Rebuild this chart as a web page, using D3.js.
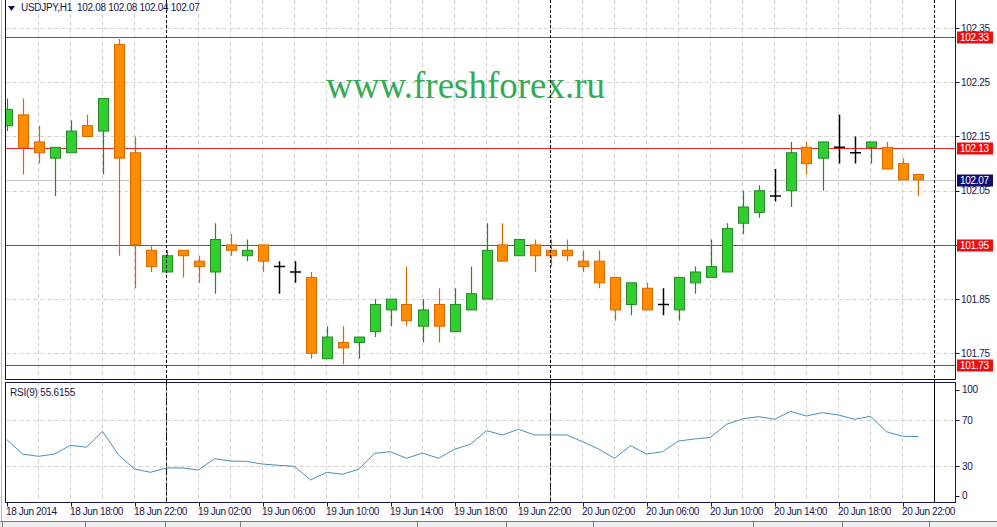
<!DOCTYPE html>
<html>
<head>
<meta charset="utf-8">
<script src="https://cdn.jsdelivr.net/npm/d3@7"></script>
<style>
  body { margin: 0; background: #ffffff; }
  svg { display: block; }
  text { font-family: "Liberation Sans", Arial, sans-serif; }
</style>
</head>
<body>
<svg id="chart" width="997" height="527"></svg>
<script>
// USDJPY H1 bars, 18 Jun 14:00 .. 20 Jun 23:00
var opens = [102.17,102.19,102.14,102.11,102.12,102.17,102.16,102.32,102.12,101.94,
             101.90,101.94,101.92,101.90,101.95,101.93,101.95,101.91,101.90,101.89,
             101.74,101.77,101.77,101.79,101.83,101.84,101.80,101.84,101.79,101.83,
             101.85,101.95,101.93,101.95,101.94,101.94,101.92,101.92,101.89,101.84,
             101.87,101.84,101.83,101.88,101.89,101.90,101.99,102.01,102.04,102.05,
             102.13,102.11,102.13,102.12,102.13,102.13,102.10,102.08];
var highs = [102.22,102.22,102.17,102.13,102.18,102.19,102.22,102.33,102.15,101.95,
             101.94,101.94,101.93,101.99,101.97,101.96,101.95,101.92,101.92,101.90,
             101.80,101.80,101.78,101.85,101.85,101.91,101.85,101.87,101.87,101.91,
             101.99,101.99,101.96,101.96,101.96,101.96,101.94,101.94,101.89,101.88,
             101.88,101.87,101.89,101.91,101.96,101.99,102.05,102.06,102.09,102.14,
             102.14,102.14,102.19,102.15,102.14,102.14,102.11,102.08];
var lows = [102.16,102.08,102.10,102.04,102.12,102.15,102.08,101.93,101.87,101.90,
            101.90,101.89,101.88,101.86,101.93,101.92,101.90,101.86,101.88,101.74,
            101.74,101.73,101.74,101.78,101.80,101.80,101.77,101.77,101.79,101.83,
            101.85,101.92,101.93,101.90,101.91,101.92,101.90,101.87,101.81,101.82,
            101.83,101.82,101.81,101.86,101.89,101.90,101.97,102.00,102.03,102.02,
            102.08,102.05,102.10,102.10,102.10,102.09,102.07,102.04];
var closes = [102.20,102.13,102.12,102.13,102.16,102.15,102.22,102.11,101.95,101.91,
              101.93,101.93,101.91,101.96,101.94,101.94,101.92,101.91,101.90,101.75,
              101.78,101.76,101.78,101.84,101.85,101.81,101.83,101.80,101.84,101.86,
              101.94,101.92,101.96,101.93,101.93,101.93,101.91,101.88,101.83,101.88,
              101.83,101.84,101.89,101.90,101.91,101.98,102.02,102.05,102.04,102.12,
              102.10,102.14,102.13,102.12,102.14,102.09,102.07,102.07];
// RSI(9) per bar
var rsi = [53.2,40.4,38.4,40.4,48.0,46.3,60.2,39.6,27.4,24.5,
           28.3,28.3,26.5,36.4,34.3,34.0,31.7,30.6,29.7,17.8,
           24.5,22.8,27.1,41.0,42.4,36.7,41.3,36.7,44.5,48.9,
           60.7,57.0,61.9,57.0,57.0,57.0,51.2,44.8,36.7,47.7,
           40.4,42.4,51.7,53.5,54.9,66.2,70.9,72.9,70.6,77.5,
           73.5,76.4,74.3,70.6,73.2,59.8,55.8,55.6];

var priceTicks = [102.35, 102.25, 102.15, 102.05, 101.95, 101.85, 101.75];
var redLevels = [102.333, 102.129, 101.949, 101.728];
var lastPrice = 102.07;
var rsiTicks = [100, 70, 30, 0];
var rsiLevels = [70, 30];
var timeLabels = ["18 Jun 2014","18 Jun 18:00","18 Jun 22:00","19 Jun 02:00","19 Jun 06:00",
                  "19 Jun 10:00","19 Jun 14:00","19 Jun 18:00","19 Jun 22:00","20 Jun 02:00",
                  "20 Jun 06:00","20 Jun 10:00","20 Jun 14:00","20 Jun 18:00","20 Jun 22:00"];
var timeLabelBars = [0,4,8,12,16,20,24,28,32,36,40,44,48,52,56];
var daySeparators = [10, 34, 58];   // bars at 00:00

var svg = d3.select("#chart");
var left = 5.5, right = 955.5;
var mainTop = 0, mainBottom = 379.5;
var rsiTop = 382.5, rsiBottom = 502.5;
var axisColor = "#14144a";

// scales
var x = d3.scaleLinear().domain([0, 58]).range([6.5, 934.5]);
var y = d3.scaleLinear().domain([101.75, 102.25]).range([353.3, 82.3]);
var yRsi = d3.scaleLinear().domain([30, 70]).range([466, 420]);

// clip paths for the two panels
var defs = svg.append("defs");
defs.append("clipPath").attr("id", "mainClip")
  .append("rect").attr("x", left).attr("y", mainTop).attr("width", right - left).attr("height", mainBottom - mainTop);
defs.append("clipPath").attr("id", "rsiClip")
  .append("rect").attr("x", left).attr("y", rsiTop).attr("width", right - left).attr("height", rsiBottom - rsiTop);

// outer window edge
svg.append("line").attr("x1", 1.5).attr("x2", 1.5).attr("y1", 0).attr("y2", 521)
  .attr("stroke", "#b8b8b8");

var gridIdx = d3.range(2, 58, 2);

// ---- main panel ----
var main = svg.append("g").attr("clip-path", "url(#mainClip)");

main.selectAll(".vgrid").data(gridIdx).enter().append("line")
  .attr("class", "vgrid")
  .attr("x1", function(d) { return x(d); }).attr("x2", function(d) { return x(d); })
  .attr("y1", mainTop).attr("y2", mainBottom)
  .attr("stroke", "#d2d2d2").attr("stroke-dasharray", "4,3");
main.selectAll(".hgrid").data(priceTicks).enter().append("line")
  .attr("class", "hgrid")
  .attr("x1", left).attr("x2", right)
  .attr("y1", function(d) { return Math.round(y(d)) + 0.5; })
  .attr("y2", function(d) { return Math.round(y(d)) + 0.5; })
  .attr("stroke", "#d2d2d2").attr("stroke-dasharray", "4,3");

// current price line
main.append("line")
  .attr("x1", left).attr("x2", right)
  .attr("y1", Math.round(y(lastPrice)) + 0.5).attr("y2", Math.round(y(lastPrice)) + 0.5)
  .attr("stroke", "#c8c8c8");

// watermark
main.append("text")
  .attr("x", 326).attr("y", 98)
  .style("font-family", "'Liberation Serif', 'Times New Roman', serif")
  .style("font-size", "37px")
  .attr("fill", "#33aa55")
  .text("www.freshforex.ru");

// day separators (both panels)
svg.selectAll(".daysep").data(daySeparators).enter().append("line")
  .attr("class", "daysep")
  .attr("x1", function(d) { return x(d); }).attr("x2", function(d) { return x(d); })
  .attr("y1", 0).attr("y2", rsiBottom)
  .attr("stroke", "#000").attr("stroke-dasharray", "3,2");

// horizontal levels
main.selectAll(".level").data(redLevels).enter().append("line")
  .attr("class", "level")
  .attr("x1", left).attr("x2", right)
  .attr("y1", function(d) { return Math.round(y(d)) + 0.5; })
  .attr("y2", function(d) { return Math.round(y(d)) + 0.5; })
  .attr("stroke", "#ee2222");

// candles
var bars = d3.range(opens.length).map(function(i) {
  return {i: i, o: opens[i], h: highs[i], l: lows[i], c: closes[i]};
});
function bodyFill(d) { return d.c > d.o ? "#33cc33" : "#ff8c00"; }
function edge(d) { return d.c > d.o ? "#258a25" : (d.c < d.o ? "#d66a00" : "#000"); }

var candle = main.selectAll(".candle").data(bars).enter().append("g").attr("class", "candle");
candle.append("line")
  .attr("x1", function(d) { return Math.round(x(d.i)) + 0.5; })
  .attr("x2", function(d) { return Math.round(x(d.i)) + 0.5; })
  .attr("y1", function(d) { return y(d.h); })
  .attr("y2", function(d) { return y(d.l); })
  .attr("stroke", edge).attr("stroke-width", function(d) { return d.c === d.o ? 1.5 : 1.2; });
candle.filter(function(d) { return d.c !== d.o; }).append("rect")
  .attr("x", function(d) { return Math.round(x(d.i)) - 4.5; })
  .attr("width", 10)
  .attr("y", function(d) { return y(Math.max(d.o, d.c)); })
  .attr("height", function(d) { return Math.abs(y(d.o) - y(d.c)); })
  .attr("fill", bodyFill).attr("stroke", edge);
candle.filter(function(d) { return d.c === d.o; }).append("line")
  .attr("x1", function(d) { return Math.round(x(d.i)) - 5; })
  .attr("x2", function(d) { return Math.round(x(d.i)) + 6; })
  .attr("y1", function(d) { return y(d.o); })
  .attr("y2", function(d) { return y(d.o); })
  .attr("stroke", "#000").attr("stroke-width", 1.5);

// header
svg.append("path").attr("d", "M8,6 L15,6 L11.5,11 Z").attr("fill", axisColor);
svg.append("text").attr("x", 21).attr("y", 11)
  .attr("font-size", 10).attr("letter-spacing", "-0.3px").attr("fill", axisColor)
  .attr("xml:space", "preserve")
  .text("USDJPY,H1  102.08 102.08 102.04 102.07");

// panel frames
svg.append("path")
  .attr("d", "M" + left + ",0 V" + mainBottom + " H" + right + " V0")
  .attr("fill", "none").attr("stroke", axisColor);
svg.append("rect")
  .attr("x", left).attr("y", rsiTop).attr("width", right - left).attr("height", rsiBottom - rsiTop)
  .attr("fill", "none").attr("stroke", axisColor);

// price axis
var priceAxis = svg.append("g");
priceAxis.selectAll("line").data(priceTicks).enter().append("line")
  .attr("x1", right).attr("x2", right + 4)
  .attr("y1", function(d) { return Math.round(y(d)) + 0.5; })
  .attr("y2", function(d) { return Math.round(y(d)) + 0.5; })
  .attr("stroke", axisColor);
priceAxis.selectAll("text").data(priceTicks).enter().append("text")
  .attr("x", 961).attr("y", function(d) { return y(d) + 3.5; })
  .attr("font-size", 10).attr("letter-spacing", "-0.3px").attr("fill", axisColor)
  .text(function(d) { return d.toFixed(2); });

// level tags
var tagData = redLevels.map(function(v) { return {v: v, fill: "#e8110f"}; })
  .concat([{v: lastPrice, fill: "#0e0e72"}]);
var tags = svg.selectAll(".tag").data(tagData).enter().append("g").attr("class", "tag");
tags.append("rect")
  .attr("x", 957).attr("width", 36)
  .attr("y", function(d) { return Math.round(y(d.v)) - 5.5; })
  .attr("height", 12)
  .attr("fill", function(d) { return d.fill; });
tags.append("text")
  .attr("x", 960).attr("y", function(d) { return Math.round(y(d.v)) + 4; })
  .attr("font-size", 10).attr("letter-spacing", "-0.3px").attr("fill", "#fff")
  .text(function(d) { return d.v.toFixed(2); });

// ---- RSI panel ----
var rsiG = svg.append("g").attr("clip-path", "url(#rsiClip)");
rsiG.selectAll(".vgrid").data(gridIdx).enter().append("line")
  .attr("x1", function(d) { return x(d); }).attr("x2", function(d) { return x(d); })
  .attr("y1", rsiTop).attr("y2", rsiBottom)
  .attr("stroke", "#d2d2d2").attr("stroke-dasharray", "4,3");
rsiG.selectAll(".hgrid").data(rsiLevels).enter().append("line")
  .attr("x1", left).attr("x2", right)
  .attr("y1", function(d) { return Math.round(yRsi(d)) + 0.5; })
  .attr("y2", function(d) { return Math.round(yRsi(d)) + 0.5; })
  .attr("stroke", "#d2d2d2").attr("stroke-dasharray", "4,3");
rsiG.selectAll(".daysep").data(daySeparators).enter().append("line")
  .attr("x1", function(d) { return x(d); }).attr("x2", function(d) { return x(d); })
  .attr("y1", rsiTop).attr("y2", rsiBottom)
  .attr("stroke", "#000").attr("stroke-dasharray", "3,2");
var rsiLine = d3.line()
  .x(function(d, i) { return x(i); })
  .y(function(d) { return yRsi(d); });
rsiG.append("path").datum(rsi)
  .attr("d", rsiLine)
  .attr("fill", "none").attr("stroke", "#4a8fb5").attr("stroke-width", 1);

svg.append("text").attr("x", 10).attr("y", 396)
  .attr("font-size", 10).attr("letter-spacing", "-0.2px").attr("fill", axisColor)
  .text("RSI(9) 55.6155");

// RSI scale, end labels kept inside the panel
function rsiLabelY(v) { return Math.min(Math.max(yRsi(v), rsiTop + 7), rsiBottom - 7); }
svg.selectAll(".rsitick").data(rsiTicks).enter().append("line")
  .attr("x1", right).attr("x2", right + 4)
  .attr("y1", function(d) { return Math.round(rsiLabelY(d)) + 0.5; })
  .attr("y2", function(d) { return Math.round(rsiLabelY(d)) + 0.5; })
  .attr("stroke", axisColor);
svg.selectAll(".rsilab").data(rsiTicks).enter().append("text")
  .attr("x", 962).attr("y", function(d) { return rsiLabelY(d) + 3.5; })
  .attr("font-size", 10).attr("letter-spacing", "-0.3px").attr("fill", axisColor)
  .text(function(d) { return d; });

// time axis
svg.selectAll(".ttick").data(timeLabelBars).enter().append("line")
  .attr("x1", function(d) { return Math.round(x(d)) + 0.5; })
  .attr("x2", function(d) { return Math.round(x(d)) + 0.5; })
  .attr("y1", rsiBottom).attr("y2", rsiBottom + 4)
  .attr("stroke", axisColor);
svg.selectAll(".tlab").data(timeLabelBars).enter().append("text")
  .attr("x", function(d) { return x(d) - 0.5; })
  .attr("y", 515)
  .attr("font-size", 10).attr("letter-spacing", "-0.4px").attr("fill", axisColor)
  .text(function(d, i) { return timeLabels[i]; });

// tab strip at the bottom
svg.append("rect").attr("x", 0).attr("y", 521).attr("width", 997).attr("height", 6).attr("fill", "#efefef");
svg.append("line").attr("x1", 0).attr("x2", 997).attr("y1", 521.5).attr("y2", 521.5).attr("stroke", "#7a7a7a");
var tabEdges = [2, 85, 165, 240, 417, 506, 593, 753, 842, 929];
svg.selectAll(".tab").data(tabEdges).enter().append("line")
  .attr("x1", function(d) { return d + 0.5; }).attr("x2", function(d) { return d + 0.5; })
  .attr("y1", 521).attr("y2", 527)
  .attr("stroke", "#7a7a7a");
</script>
</body>
</html>
